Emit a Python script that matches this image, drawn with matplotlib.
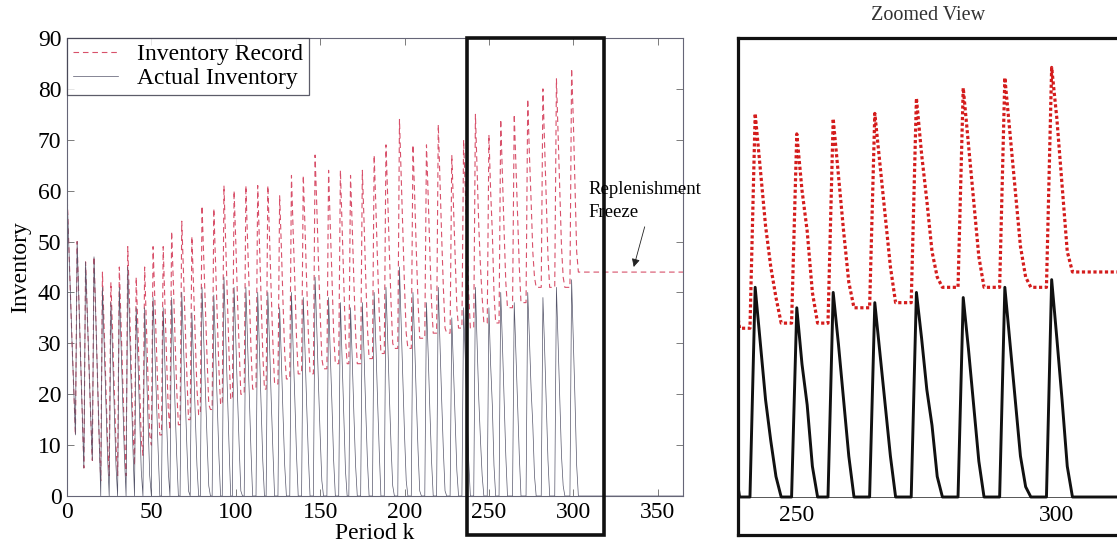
import numpy as np
import matplotlib
matplotlib.use("Agg")
import matplotlib.pyplot as plt
from matplotlib.patches import Rectangle

plt.rcParams['font.family'] = ['Liberation Serif', 'DejaVu Serif']

# Actual on-hand inventory, one list per replenishment cycle (periods 0..298)
actual_cycles = [
    [60, 50, 40, 30, 21, 12],
    [50, 39, 28, 17, 5.5],
    [46, 36, 26, 16, 7],
    [47, 36, 24, 12, 0],
    [41, 30, 19, 8, 0],
    [38, 28, 17, 6, 0],
    [41, 30, 19, 8, 0],
    [45, 34, 22, 10, 0],
    [37, 27, 16, 5, 0],
    [37, 26, 15, 4, 0],
    [39, 29, 19, 9, 0, 0],
    [37, 26, 15, 5, 0],
    [39, 29, 18, 8, 0, 0],
    [40, 30, 20, 10, 1, 0],
    [36, 26, 16, 6, 0, 0],
    [41, 31, 21, 11, 2, 0, 0],
    [39.5, 29, 18, 8, 0, 0],
    [43, 32, 21, 10, 0, 0],
    [41, 31, 20, 10, 1, 0, 0],
    [41, 30, 20, 9, 0, 0, 0],
    [40, 29, 18, 7, 0, 0],
    [40, 30, 19, 9, 0, 0, 0],
    [37, 27, 16, 6, 0, 0, 0],
    [40, 29, 19, 8, 0, 0, 0],
    [39, 29, 18, 8, 0, 0, 0],
    [43, 33, 22, 12, 3, 0, 0, 0],
    [39, 28, 18, 7, 0, 0, 0],
    [38, 27, 16, 5, 0, 0],
    [37, 27, 16, 6, 0, 0, 0],
    [38, 28, 17, 7, 0, 0, 0],
    [40, 30, 19, 9, 0, 0, 0],
    [41, 31, 20, 10, 2, 0, 0, 0],
    [45, 34, 23, 12, 3, 0, 0, 0],
    [40, 30, 19, 9, 1, 0, 0, 0],
    [38, 28, 17, 7, 0, 0, 0],
    [41, 30, 19, 9, 1, 0, 0, 0],
    [35, 25, 15, 5, 0, 0, 0],
    [37, 27, 17, 7, 0, 0, 0],
    [41, 30, 19, 11, 4, 0, 0, 0],
    [37, 26, 18, 6, 0, 0, 0],
    [40, 30, 19, 8, 0, 0, 0, 0],
    [38, 28, 18, 8, 0, 0, 0, 0],
    [40, 31, 21, 14, 4, 0, 0, 0, 0],
    [39, 29, 18, 7, 0, 0, 0, 0],
    [41, 30, 19, 8, 2, 0, 0, 0, 0],
    [42.5, 31, 19, 6],
]
# Recorded inventory for the same cycles
record_cycles = [
    [60, 50, 40, 30, 21, 12],
    [50, 39, 28, 17, 5.5],
    [46, 36, 26, 16, 7],
    [47, 36, 24, 12, 3],
    [44, 33, 22, 11, 4],
    [42, 32, 21, 10, 4],
    [45, 34, 23, 12, 4],
    [49, 38, 26, 14, 6],
    [43, 33, 22, 11, 8],
    [45, 34, 23, 12, 10],
    [49, 39, 29, 19, 12, 12],
    [49, 38, 27, 17, 13],
    [52, 42, 31, 21, 14, 14],
    [54, 44, 34, 24, 15, 15],
    [51, 41, 31, 21, 16, 16],
    [57, 47, 37, 27, 18, 17, 17],
    [56.5, 46, 35, 25, 18, 18],
    [61, 50, 39, 28, 19, 19],
    [60, 50, 39, 29, 20, 20, 20],
    [61, 50, 40, 29, 21, 21, 21],
    [61, 50, 39, 28, 21, 21],
    [61, 51, 40, 30, 22, 22, 22],
    [59, 49, 38, 28, 23, 23, 23],
    [63, 52, 42, 31, 24, 24, 24],
    [63, 53, 42, 32, 24, 24, 24],
    [67, 57, 46, 36, 27, 25, 25, 25],
    [64, 53, 43, 32, 26, 26, 26],
    [64, 53, 42, 31, 26, 26],
    [63, 53, 42, 32, 26, 26, 26],
    [64, 54, 43, 33, 27, 27, 27],
    [67, 57, 46, 36, 28, 28, 28],
    [69, 59, 48, 38, 30, 29, 29, 29],
    [74, 63, 52, 41, 32, 29, 29, 29],
    [69, 59, 48, 38, 31, 31, 31, 31],
    [69, 59, 48, 38, 32, 32, 32],
    [73, 62, 51, 41, 33, 32, 32, 32],
    [67, 57, 47, 37, 33, 33, 33],
    [70, 60, 50, 40, 33, 33, 33],
    [75, 64, 53, 45, 39, 34, 34, 34],
    [71, 60, 52, 40, 34, 34, 34],
    [74, 63, 52, 42, 37, 37, 37, 37],
    [75, 65, 55, 45, 38, 38, 38, 38],
    [78, 67, 58, 48, 43, 41, 41, 41, 41],
    [80, 69, 58, 47, 41, 41, 41, 41],
    [82, 71, 60, 49, 43, 41, 41, 41, 41],
    [84, 74, 61, 48],
]
# Replenishment freeze: periods 303..365
freeze_actual = [0] * 63
freeze_record = [44] * 63

actual = [v for c in actual_cycles for v in c] + freeze_actual
record = [v for c in record_cycles for v in c] + freeze_record
period = np.arange(len(actual))

x_ticks = [0, 50, 100, 150, 200, 250, 300, 350]
y_ticks = [0, 10, 20, 30, 40, 50, 60, 70, 80, 90]
zoom_ticks = [250, 300]
zoom_window = (237, 318)

W, H = 1117, 558
fig = plt.figure(figsize=(W / 100, H / 100), dpi=100)

# ---- main panel ----
ax = fig.add_axes([67 / W, 1 - 496 / H, 616 / W, 458 / H])
rec_line, = ax.plot(period, record, color='#d8506a', lw=0.8,
                    dashes=(5, 3.5), label='Inventory Record')
act_line, = ax.plot(period, actual, color='#55556a', lw=0.5,
                    label='Actual Inventory')
ax.set_xlim(0, 365)
ax.set_ylim(0, 90)
ax.set_xticks(x_ticks)
ax.set_yticks(y_ticks)
ax.tick_params(direction='in', top=True, right=True, length=5,
               width=0.6, color='#666666', labelsize=17, pad=4)
for s in ax.spines.values():
    s.set_color('#666677')
    s.set_linewidth(0.8)
ax.set_xlabel('Period k', fontsize=17, labelpad=0)
ax.set_ylabel('Inventory', fontsize=17, labelpad=5)

leg = ax.legend(loc='upper left', fontsize=17, frameon=True, fancybox=False,
                borderaxespad=0, handlelength=1.9, handletextpad=0.8,
                borderpad=0.25, labelspacing=0.1)
leg.get_frame().set_edgecolor('#333344')
leg.get_frame().set_linewidth(0.9)

# highlight of the zoomed window
ax.add_patch(Rectangle((zoom_window[0], -7.7), zoom_window[1] - zoom_window[0], 97.7,
                       fill=False, ec='#111111', lw=2.6, clip_on=False, zorder=5))

ax.text(309, 60.2, 'Replenishment', fontsize=13.5, ha='left', va='center', zorder=6)
ax.text(309, 55.8, 'Freeze', fontsize=13.5, ha='left', va='center', zorder=6)
ax.annotate('', xy=(335.8, 45), xytext=(342.3, 52.9),
            arrowprops=dict(arrowstyle='-|>', color='#222222', lw=0.6,
                            mutation_scale=12, shrinkA=0, shrinkB=0))

# ---- zoomed panel ----
ax2 = fig.add_axes([738 / W, 1 - 535 / H, 400 / W, 497 / H])
ax2.axhline(0, color='#555555', lw=0.7, zorder=1)
ax2.plot(period, record, color='#d41c1c', lw=2.3, linestyle=(0, (1, 0.8)), zorder=2)
ax2.plot(period, actual, color='#111111', lw=2.1, zorder=3)
ax2.set_xlim(238.7, 315.6)
ax2.set_ylim(-7.43, 89.75)
ax2.set_xticks([])
ax2.set_yticks([])
for s in ax2.spines.values():
    s.set_color('#111111')
    s.set_linewidth(2.3)
for v in zoom_ticks:
    ax2.text(v, -3.6, str(v), fontsize=17, ha='center', va='center')

fig.text(928 / W, 1 - 15 / H, 'Zoomed View', fontsize=14.5, ha='center', va='center',
         color='#333333')

fig.savefig('out.png', dpi=100)
